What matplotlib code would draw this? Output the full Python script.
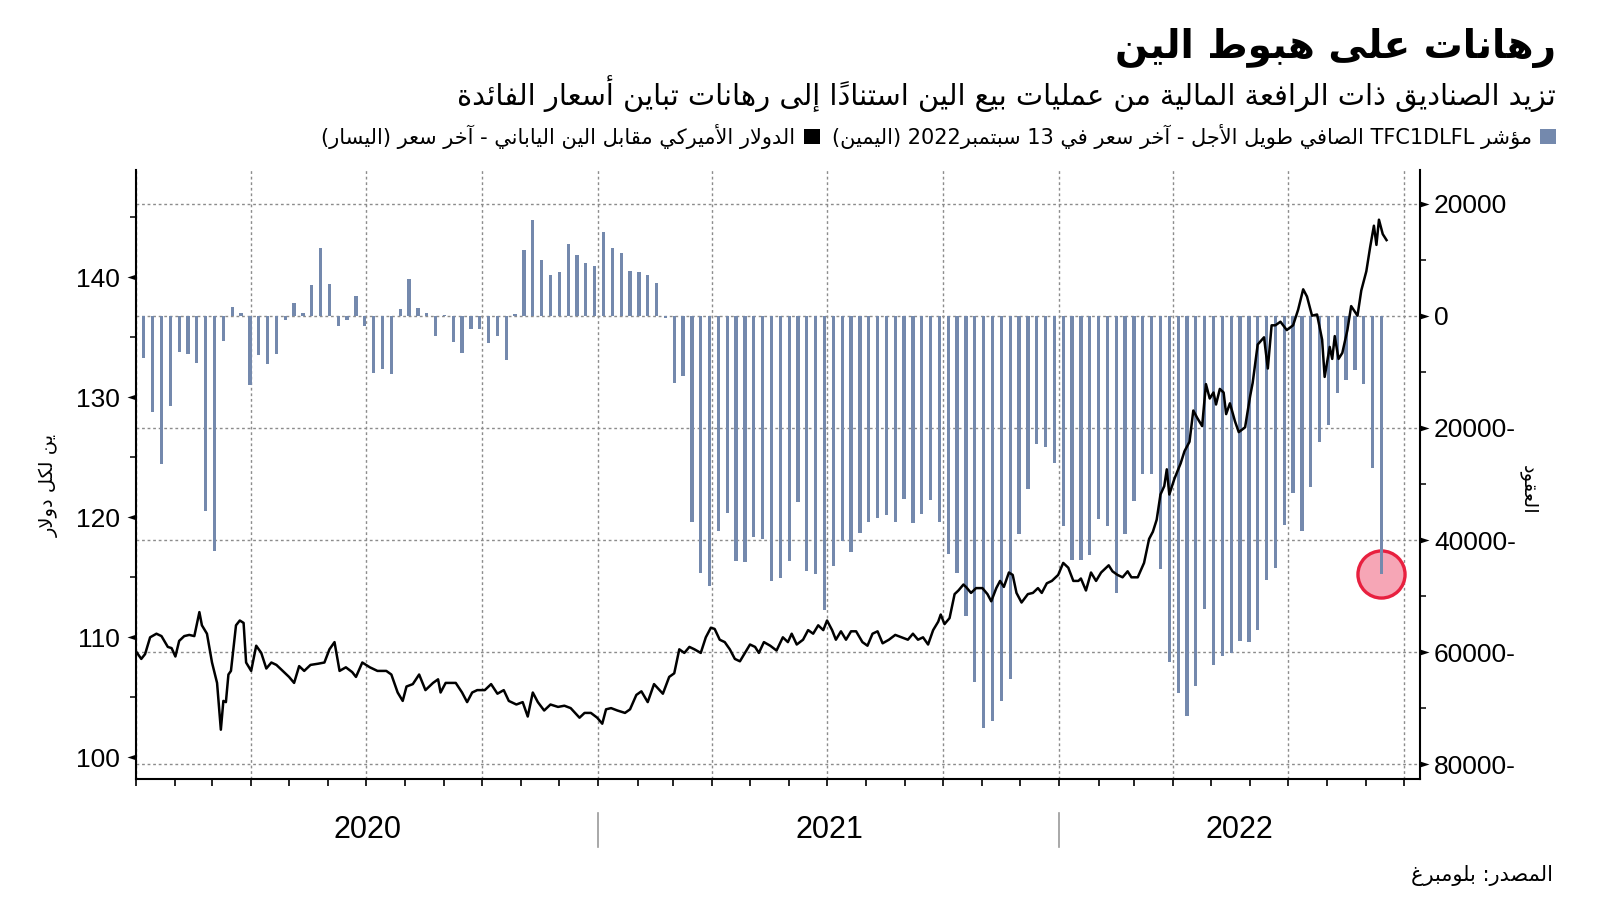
import numpy as np
import pandas as pd
import matplotlib
matplotlib.use("Agg")
import matplotlib.pyplot as plt
import matplotlib.dates as mdates
from matplotlib.path import Path
from matplotlib.patches import Patch
from matplotlib.ticker import FuncFormatter, MultipleLocator, NullFormatter
from matplotlib.transforms import blended_transform_factory

plt.rcParams['font.family'] = ['DejaVu Sans']

# ---------------- data ----------------
title = "رهانات على هبوط الين"
subtitle = "تزيد الصناديق ذات الرافعة المالية من عمليات بيع الين استناداً إلى رهانات تباين أسعار الفائدة"
legend_bar = "مؤشر TFC1DLFL الصافي طويل الأجل - آخر سعر في 13 سبتمبر2022 (اليمين)"
legend_line = "الدولار الأميركي مقابل الين الياباني - آخر سعر (اليسار)"
left_label = "ين لكل دولار"
right_label = "العقود"
source = "المصدر: بلومبرغ"
years = [2020, 2021, 2022]

# weekly net positions (Tuesdays, 2020-01-07 .. 2022-09-13)
bar_start, bar_end = "2020-01-07", "2022-09-13"
bars_2020 = [-7500, -17200, -26500, -16100, -6500, -6800, -8400, -34900, -42000, -4500,
             1600, 450, -12400, -7000, -8600, -6750, -850, 2250, 450, 5450,
             12000, 5700, -1750, -850, 3450, -1750, -10150, -9500, -10400, 1250,
             6600, 1300, 400, -3700, 200, -4700, -6700, -2450, -2300, -4900,
             -3700, -7900, 300, 11700, 17100, 9900, 7300, 7800, 12800, 10750,
             9400, 8900]
bars_2021 = [14900, 12100, 11200, 8000, 7800, 7300, 5800, -500, -12000, -10800,
             -36800, -45900, -48200, -38400, -35100, -43700, -44000, -39500, -39800, -47300,
             -46800, -43700, -33300, -45600, -46100, -52500, -44700, -40200, -42100, -38800,
             -36800, -36100, -35600, -36800, -32700, -37000, -35300, -32800, -36800, -42500,
             -45900, -53600, -65300, -73500, -72200, -68700, -64800, -39000, -30900, -22900,
             -23400, -26200]
bars_2022 = [-37500, -43500, -43500, -42600, -36300, -37500, -49500, -38900, -33000, -28200,
             -28200, -45200, -61700, -67300, -71300, -66000, -52300, -62300, -60600, -60200,
             -58000, -58200, -56100, -47200, -44900, -37400, -31600, -38400, -30600, -22600,
             -19400, -13800, -11500, -9600, -12200, -27200, -46100]

# USD/JPY
usdjpy_dates = [
    "2020-01-01", "2020-01-05", "2020-01-08", "2020-01-12", "2020-01-17", "2020-01-21", "2020-01-26",
    "2020-01-29", "2020-02-01", "2020-02-04", "2020-02-08", "2020-02-12", "2020-02-16", "2020-02-20",
    "2020-02-22", "2020-02-26", "2020-03-01", "2020-03-05", "2020-03-08", "2020-03-10", "2020-03-12",
    "2020-03-14", "2020-03-16", "2020-03-20", "2020-03-23", "2020-03-26", "2020-03-28", "2020-04-01",
    "2020-04-05", "2020-04-09", "2020-04-13", "2020-04-17", "2020-04-21", "2020-04-26", "2020-05-01",
    "2020-05-05", "2020-05-09", "2020-05-13", "2020-05-18", "2020-05-24", "2020-05-29", "2020-06-02",
    "2020-06-06", "2020-06-10", "2020-06-15", "2020-06-20", "2020-06-23", "2020-06-28", "2020-07-04",
    "2020-07-10", "2020-07-17", "2020-07-21", "2020-07-26", "2020-07-30", "2020-08-02", "2020-08-07",
    "2020-08-12", "2020-08-17", "2020-08-23", "2020-08-27", "2020-08-29", "2020-09-02", "2020-09-10",
    "2020-09-15", "2020-09-19", "2020-09-23", "2020-09-27", "2020-10-03", "2020-10-08", "2020-10-13",
    "2020-10-18", "2020-10-22", "2020-10-28", "2020-11-02", "2020-11-06", "2020-11-10", "2020-11-14",
    "2020-11-19", "2020-11-24", "2020-11-30", "2020-12-05", "2020-12-10", "2020-12-17", "2020-12-21",
    "2020-12-26", "2020-12-31",
    "2021-01-04", "2021-01-07", "2021-01-11", "2021-01-16", "2021-01-22", "2021-01-26", "2021-01-31",
    "2021-02-04", "2021-02-09", "2021-02-14", "2021-02-21", "2021-02-26", "2021-03-02", "2021-03-06",
    "2021-03-10", "2021-03-14", "2021-03-18", "2021-03-23", "2021-03-27", "2021-03-31", "2021-04-03",
    "2021-04-07", "2021-04-11", "2021-04-15", "2021-04-19", "2021-04-23", "2021-04-27", "2021-05-01",
    "2021-05-05", "2021-05-08", "2021-05-12", "2021-05-17", "2021-05-22", "2021-05-27", "2021-05-31",
    "2021-06-03", "2021-06-07", "2021-06-12", "2021-06-16", "2021-06-20", "2021-06-24", "2021-06-28",
    "2021-07-01", "2021-07-05", "2021-07-08", "2021-07-12", "2021-07-16", "2021-07-20", "2021-07-24",
    "2021-07-29", "2021-08-02", "2021-08-06", "2021-08-10", "2021-08-14", "2021-08-19", "2021-08-24",
    "2021-08-29", "2021-09-03", "2021-09-07", "2021-09-11", "2021-09-15", "2021-09-19", "2021-09-23",
    "2021-09-27", "2021-09-29", "2021-10-02", "2021-10-06", "2021-10-10", "2021-10-13", "2021-10-17",
    "2021-10-19", "2021-10-23", "2021-10-27", "2021-11-01", "2021-11-05", "2021-11-08", "2021-11-12",
    "2021-11-15", "2021-11-18", "2021-11-22", "2021-11-25", "2021-11-28", "2021-12-02", "2021-12-07",
    "2021-12-11", "2021-12-15", "2021-12-18", "2021-12-22", "2021-12-26", "2021-12-31",
    "2022-01-04", "2022-01-08", "2022-01-12", "2022-01-16", "2022-01-18", "2022-01-22", "2022-01-26",
    "2022-01-30", "2022-02-03", "2022-02-09", "2022-02-12", "2022-02-16", "2022-02-20", "2022-02-24",
    "2022-02-27", "2022-03-04", "2022-03-09", "2022-03-13", "2022-03-16", "2022-03-19", "2022-03-22",
    "2022-03-25", "2022-03-27", "2022-03-29", "2022-04-02", "2022-04-07", "2022-04-10", "2022-04-14",
    "2022-04-17", "2022-04-20", "2022-04-24", "2022-04-27", "2022-04-30", "2022-05-03", "2022-05-05",
    "2022-05-08", "2022-05-11", "2022-05-13", "2022-05-16", "2022-05-20", "2022-05-23", "2022-05-28",
    "2022-06-01", "2022-06-03", "2022-06-07", "2022-06-12", "2022-06-15", "2022-06-18", "2022-06-21",
    "2022-06-25", "2022-06-30", "2022-07-05", "2022-07-09", "2022-07-13", "2022-07-16", "2022-07-20",
    "2022-07-24", "2022-07-28", "2022-07-30", "2022-08-03", "2022-08-05", "2022-08-07", "2022-08-10",
    "2022-08-13", "2022-08-17", "2022-08-20", "2022-08-25", "2022-08-28", "2022-09-01", "2022-09-04",
    "2022-09-07", "2022-09-09", "2022-09-11", "2022-09-14", "2022-09-17",
]
usdjpy_values = [
    108.8, 108.2, 108.6, 110.0, 110.3, 110.1, 109.2,
    109.1, 108.4, 109.7, 110.1, 110.2, 110.1, 112.1,
    111.0, 110.3, 107.9, 106.2, 102.3, 104.7, 104.6,
    106.9, 107.2, 111.0, 111.4, 111.2, 107.9, 107.2,
    109.3, 108.7, 107.4, 107.9, 107.7, 107.2, 106.7,
    106.2, 107.6, 107.2, 107.7, 107.8, 107.9, 109.0,
    109.6, 107.2, 107.5, 107.1, 106.7, 107.9, 107.5,
    107.2, 107.2, 106.9, 105.4, 104.7, 105.9, 106.1,
    106.9, 105.6, 106.2, 106.5, 105.4, 106.2, 106.2,
    105.4, 104.6, 105.4, 105.6, 105.6, 106.1, 105.3,
    105.6, 104.7, 104.4, 104.6, 103.4, 105.4, 104.6,
    103.9, 104.4, 104.2, 104.3, 104.1, 103.3, 103.7,
    103.7, 103.3,
    102.8, 104.0, 104.1, 103.9, 103.7, 104.0, 105.2,
    105.5, 104.6, 106.1, 105.3, 106.7, 107.0, 109.0,
    108.7, 109.2, 109.0, 108.7, 110.0, 110.8, 110.7,
    109.8, 109.6, 109.0, 108.2, 108.0, 108.7, 109.4,
    109.2, 108.7, 109.6, 109.3, 108.9, 110.0, 109.6,
    110.3, 109.4, 109.8, 110.6, 110.3, 111.0, 110.6,
    111.4, 110.6, 109.8, 110.5, 109.8, 110.5, 110.5,
    109.6, 109.3, 110.3, 110.5, 109.5, 109.8, 110.2,
    110.0, 109.8, 110.3, 109.8, 110.0, 109.4, 110.6,
    111.3, 111.9, 111.1, 111.6, 113.6, 113.9, 114.4,
    114.2, 113.7, 114.1, 114.1, 113.6, 113.0, 114.1,
    114.7, 114.2, 115.4, 115.2, 113.7, 112.9, 113.6,
    113.7, 114.1, 113.7, 114.5, 114.7, 115.2,
    116.2, 115.8, 114.7, 114.7, 114.9, 113.9, 115.4,
    114.7, 115.4, 116.0, 115.5, 115.2, 115.0, 115.5,
    115.0, 115.0, 116.2, 118.2, 118.8, 119.8, 121.9,
    122.6, 124.0, 121.9, 123.2, 124.5, 125.5, 126.3,
    128.9, 128.3, 127.6, 131.1, 129.9, 130.4, 129.4,
    130.7, 130.4, 128.6, 129.5, 128.0, 127.1, 127.5,
    130.1, 131.2, 134.4, 135.0, 132.4, 136.0, 136.0,
    136.3, 135.6, 136.0, 137.3, 139.0, 138.4, 136.8,
    136.9, 134.8, 131.7, 134.2, 133.2, 135.1, 133.2,
    133.7, 135.6, 137.6, 136.8, 138.9, 140.5, 142.5,
    144.3, 142.7, 144.8, 143.6, 143.1,
]

# ---------------- Arabic shaping + simple bidi ----------------
FOUR = {'ئ': 0xFE89, 'ب': 0xFE8F, 'ت': 0xFE95, 'ث': 0xFE99, 'ج': 0xFE9D, 'ح': 0xFEA1,
        'خ': 0xFEA5, 'س': 0xFEB1, 'ش': 0xFEB5, 'ص': 0xFEB9, 'ض': 0xFEBD, 'ط': 0xFEC1,
        'ظ': 0xFEC5, 'ع': 0xFEC9, 'غ': 0xFECD, 'ف': 0xFED1, 'ق': 0xFED5, 'ك': 0xFED9,
        'ل': 0xFEDD, 'م': 0xFEE1, 'ن': 0xFEE5, 'ه': 0xFEE9, 'ي': 0xFEF1}
TWO = {'آ': 0xFE81, 'أ': 0xFE83, 'ؤ': 0xFE85, 'إ': 0xFE87, 'ا': 0xFE8D, 'ة': 0xFE93,
       'د': 0xFEA9, 'ذ': 0xFEAB, 'ر': 0xFEAD, 'ز': 0xFEAF, 'و': 0xFEED, 'ى': 0xFEEF}
ONE = {'ء': 0xFE80}
LAMALEF = {'آ': 0xFEF5, 'أ': 0xFEF7, 'إ': 0xFEF9, 'ا': 0xFEFB}
MIRROR = {'(': ')', ')': '(', '[': ']', ']': '['}


def _is_mark(c):
    return '\u064B' <= c <= '\u065F' or c == '\u0670'


def _joins(c):
    return c is not None and (c in FOUR or c in TWO or c == '\u0640')


def _dual(c):
    return c is not None and (c in FOUR or c == '\u0640')


def _shape(text):
    chars = list(text)
    n = len(chars)
    out = []
    i = 0
    while i < n:
        c = chars[i]
        if _is_mark(c):
            if out:
                out[-1] = (out[-1][0] + c, out[-1][1])
            i += 1
            continue
        if not (_joins(c) or c in ONE):
            out.append((c, False))
            i += 1
            continue
        j = i - 1
        while j >= 0 and _is_mark(chars[j]):
            j -= 1
        prev = chars[j] if j >= 0 else None
        k = i + 1
        while k < n and _is_mark(chars[k]):
            k += 1
        nxt = chars[k] if k < n else None
        cp = _joins(c) and _dual(prev)
        if c == 'ل' and nxt in LAMALEF:
            marks = ''.join(ch for ch in chars[i + 1:k + 1] if _is_mark(ch))
            out.append((chr(LAMALEF[nxt] + (1 if cp else 0)) + marks, True))
            i = k + 1
            continue
        cn = _dual(c) and _joins(nxt)
        if c in FOUR:
            b = FOUR[c]
            g = b + (3 if (cp and cn) else 1 if cp else 2 if cn else 0)
        elif c in TWO:
            g = TWO[c] + (1 if cp else 0)
        elif c in ONE:
            g = ONE[c]
        else:
            g = ord(c)
        out.append((chr(g), True))
        i += 1
    return out


def ar(text):
    toks = _shape(text)
    types = []
    for g, isar in toks:
        if isar:
            types.append('R')
        elif g.isascii() and g.isalnum():
            types.append('L')
        else:
            types.append('N')
    n = len(toks)
    res = types[:]
    for k in range(n):
        if types[k] == 'N':
            pl = next((types[j] for j in range(k - 1, -1, -1) if types[j] != 'N'), 'R')
            nl = next((types[j] for j in range(k + 1, n) if types[j] != 'N'), 'R')
            res[k] = 'L' if (pl == 'L' and nl == 'L') else 'R'
    runs = []
    for t, (g, _) in zip(res, toks):
        if runs and runs[-1][0] == t:
            runs[-1][1].append(g)
        else:
            runs.append([t, [g]])
    parts = []
    for t, gs in reversed(runs):
        if t == 'R':
            parts.append(''.join(MIRROR.get(g, g) for g in reversed(gs)))
        else:
            parts.append(''.join(gs))
    return ''.join(parts)


# ---------------- figure ----------------
BAR_COLOR = '#7489ad'
GRID_COLOR = '#8c8c8c'
NUM_FONT = 'Liberation Sans'

bar_dates = pd.date_range(bar_start, bar_end, freq='7D')
bar_values = bars_2020 + bars_2021 + bars_2022
line_dates = pd.to_datetime(usdjpy_dates)

fig = plt.figure(figsize=(16, 9.01), dpi=100)
ax = fig.add_axes([0.08475, 0.1351, 0.80275, 0.6762])
ax2 = ax.twinx()
ax.yaxis.tick_right()

ax.set_axisbelow(True)
ax.bar(bar_dates, bar_values, width=2.6, color=BAR_COLOR, zorder=2)
ax.scatter([bar_dates[-1]], [bar_values[-1]], s=1150, facecolor='#f6a6b6',
           edgecolor='#e8203f', linewidth=2.4, zorder=1.6)
ax2.plot(line_dates, usdjpy_values, color='black', lw=1.8, zorder=3,
         solid_joinstyle='round')

ax.set_xlim(pd.Timestamp('2019-12-31 12:00'), pd.Timestamp('2022-10-13 12:00'))
ax.set_ylim(-82650, 25970)
ax2.set_ylim(98.17, 148.94)

# spines
for s in ['top', 'left']:
    ax.spines[s].set_visible(False)
for s in ['top', 'right', 'bottom']:
    ax2.spines[s].set_visible(False)
ax.spines['right'].set_linewidth(1.5)
ax.spines['bottom'].set_linewidth(1.5)
ax2.spines['left'].set_linewidth(1.5)

# x axis
ax.xaxis.set_major_locator(mdates.MonthLocator(bymonth=[1, 4, 7, 10]))
ax.xaxis.set_minor_locator(mdates.MonthLocator())
ax.xaxis.set_major_formatter(NullFormatter())
ax.tick_params(axis='x', which='both', length=5, width=1.2, direction='out', labelbottom=False)
ax.grid(axis='x', which='major', linestyle=(0, (2, 2)), color=GRID_COLOR, lw=1)

# right axis (positions)
ax.set_yticks([-80000, -60000, -40000, -20000, 0, 20000])
ax.yaxis.set_minor_locator(MultipleLocator(10000))
ax.yaxis.set_major_formatter(FuncFormatter(lambda v, p: f"{abs(int(v))}-" if v < 0 else f"{int(v)}"))
ax.grid(axis='y', which='major', linestyle=(0, (2, 2)), color=GRID_COLOR, lw=1)
ax.tick_params(axis='y', which='major', length=13, width=0, pad=-3, labelsize=19,
               labelfontfamily=NUM_FONT, right=True, left=False, labelright=True, labelleft=False)
ax.tick_params(axis='y', which='minor', length=4, width=1.1, right=True, left=False)

# left axis (USD/JPY)
ax2.yaxis.tick_left()
ax2.set_yticks([100, 110, 120, 130, 140])
ax2.yaxis.set_minor_locator(MultipleLocator(5))
ax2.tick_params(axis='y', which='major', length=13, width=0, pad=-2, labelsize=19,
                labelfontfamily=NUM_FONT, left=True, right=False, labelleft=True, labelright=False)
ax2.tick_params(axis='y', which='minor', length=4, width=1.1, left=True, right=False)

tri_left = Path([(0, 0.32), (-1, 0), (0, -0.32), (0, 0.32)],
                [Path.MOVETO, Path.LINETO, Path.LINETO, Path.CLOSEPOLY])
tri_right = Path([(0, 0.32), (1, 0), (0, -0.32), (0, 0.32)],
                 [Path.MOVETO, Path.LINETO, Path.LINETO, Path.CLOSEPOLY])
for t in ax2.yaxis.get_major_ticks():
    t.tick1line.set_marker(tri_left)
    t.tick1line.set_markerfacecolor('black')
    t.tick1line.set_markeredgecolor('black')
for t in ax.yaxis.get_major_ticks():
    t.tick2line.set_marker(tri_right)
    t.tick2line.set_markerfacecolor('black')
    t.tick2line.set_markeredgecolor('black')

# year labels and separators
blend = blended_transform_factory(ax.transData, ax.transAxes)
x0, x1 = ax.get_xlim()
for yr in years:
    a = max(mdates.date2num(pd.Timestamp(f"{yr}-01-01")), x0)
    b = min(mdates.date2num(pd.Timestamp(f"{yr + 1}-01-01")), x1)
    ax.text((a + b) / 2, -0.083, str(yr), transform=blend, ha='center', va='center',
            fontsize=22, fontfamily=NUM_FONT)
for yr in years[1:]:
    xs = mdates.date2num(pd.Timestamp(f"{yr}-01-01"))
    ax.plot([xs, xs], [-0.055, -0.111], transform=blend, color='#9a9a9a', lw=1.2, clip_on=False)

# axis labels
fig.text(0.0306, 0.4617, ar(left_label), rotation=90, ha='center', va='center', fontsize=14)
fig.text(0.955, 0.456, ar(right_label), rotation=-90, ha='center', va='center', fontsize=14)

# titles
fig.text(0.9725, 0.947, ar(title), ha='right', va='center', fontsize=28, fontweight='bold')
fig.text(0.9725, 0.8957, ar(subtitle), ha='right', va='center', fontsize=20.8)

handles = [Patch(facecolor='black'), Patch(facecolor=BAR_COLOR)]
fig.legend(handles=handles, labels=[ar(legend_line), ar(legend_bar)], loc='center right',
           bbox_to_anchor=(0.9725, 0.849), ncol=2, markerfirst=False, frameon=False,
           fontsize=15, handlelength=0.75, handleheight=0.75, handletextpad=0.4,
           columnspacing=0.6, borderaxespad=0, borderpad=0)

fig.text(0.9706, 0.0283, ar(source), ha='right', va='center', fontsize=15)

fig.savefig('out.png', dpi=100)
